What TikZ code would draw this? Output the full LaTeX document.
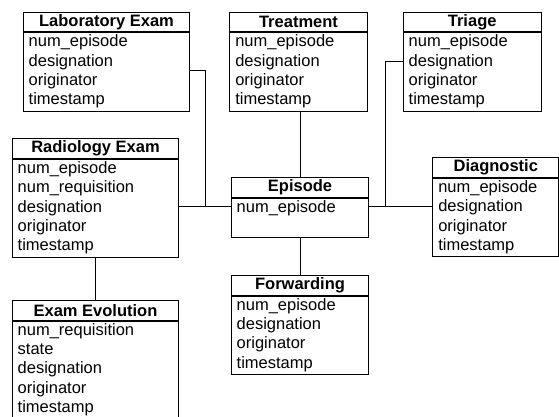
\documentclass[tikz,border=0pt]{standalone}
\usepackage{fontspec}
\setmainfont{Liberation Sans}
\usetikzlibrary{positioning}
\tikzstyle{head} = [rectangle, draw=black, line width=1pt, anchor=north west, minimum height=19.5pt, inner sep=0pt, font=\fontsize{16.5}{19.4}\selectfont\bfseries]
\tikzstyle{attrs} = [rectangle, draw=black, line width=1pt, align=left, inner xsep=5.5pt, inner ysep=0.5pt, font=\fontsize{16.5}{19.4}\selectfont, execute at begin node={\noindent\strut}, execute at end node=\strut]
\tikzstyle{link} = [line width=1pt]
\begin{document}
\begin{tikzpicture}[x=1pt, y=-1pt]
    \useasboundingbox (0,0) rectangle (559,416);
    \clip (0,0) rectangle (559,416);

    \node (lab) [head, minimum width=166.6pt] at (22.7,11.7) {Laboratory Exam};
    \node (lab1) [attrs, text width=155.6pt, below=0pt of lab] {num\_episode\\designation\\originator\\timestamp};
    \node (trt) [head, minimum width=137.4pt] at (229.3,11.7) {Treatment};
    \node (trt1) [attrs, text width=126.4pt, below=0pt of trt] {num\_episode\\designation\\originator\\timestamp};
    \node (tri) [head, minimum width=138pt] at (402.7,11.7) {Triage};
    \node (tri1) [attrs, text width=127pt, below=0pt of tri] {num\_episode\\designation\\originator\\timestamp};
    \node (rad) [head, minimum width=166.6pt] at (11.7,138.3) {Radiology Exam};
    \node (rad1) [attrs, text width=155.6pt, below=0pt of rad] {num\_episode\\num\_requisition\\designation\\originator\\timestamp};
    \node (epi) [head, minimum width=137.6pt] at (230.7,177) {Episode};
    \node (epi1) [attrs, text width=126.6pt, below=0pt of epi] {num\_episode\\};
    \node (dia) [head, minimum width=126pt] at (432.3,157.3) {Diagnostic};
    \node (dia1) [attrs, text width=115pt, below=0pt of dia] {num\_episode\\designation\\originator\\timestamp};
    \node (fwd) [head, minimum width=137.6pt] at (230.7,275) {Forwarding};
    \node (fwd1) [attrs, text width=126.6pt, below=0pt of fwd] {num\_episode\\designation\\originator\\timestamp};
    \node (evo) [head, minimum width=166.6pt] at (11.7,300) {Exam Evolution};
    \node (evo1) [attrs, text width=155.6pt, below=0pt of evo] {num\_requisition\\state\\designation\\originator\\timestamp};

    \coordinate (jl) at (205,206.5);
    \coordinate (jr) at (385.5,206.5);

    \draw [link] ([yshift=-38pt]lab1.north east) -| (jl);
    \draw [link] ([yshift=-29pt]tri1.north west) -| (jr);
    \draw [link] (rad1.east |- jl) -- (epi1.west |- jl);
    \draw [link] (epi1.east |- jr) -- (dia1.west |- jr);
    \draw [link] (trt1.south -| epi.north) -- (epi.north);
    \draw [link] (epi1) -- (fwd);
    \draw [link] (rad1) -- (evo);
\end{tikzpicture}
\end{document}
